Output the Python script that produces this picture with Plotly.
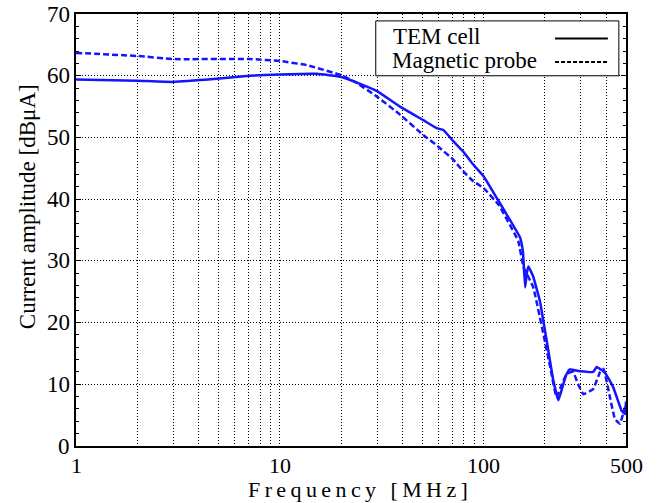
import math
import plotly.graph_objects as go

# TEM cell (solid)
tem_f = [1, 2, 3, 4.9, 7.1, 10, 15.2, 20, 23.4, 30, 38.9, 50.6, 58.9, 63.5, 71, 79.5, 89, 100,
         116, 130, 151, 156, 160, 163, 166, 175, 189, 204, 220, 233, 245, 256, 265, 300, 345,
         359, 394, 433, 476, 495, 500]
tem_a = [59.4, 59.2, 59.0, 59.5, 60.0, 60.2, 60.3, 59.8, 59.0, 57.5, 55.0, 52.8, 51.5, 51.2,
         49.4, 47.7, 45.6, 43.7, 40.2, 37.5, 33.8, 31.5, 25.7, 28.0, 29.1, 27.5, 23.5, 17.1,
         10.6, 7.4, 9.8, 11.7, 12.4, 12.1, 12.0, 12.8, 11.9, 9.5, 5.7, 5.2, 7.2]

# Magnetic probe (dashed)
mag_f = [1, 2, 3, 7.1, 10, 13.6, 20, 23.4, 30, 38.9, 50.6, 60, 71, 79.5, 89, 100, 119, 148,
         157, 175, 212, 228, 242, 256, 275, 291, 309, 345, 373, 388, 417, 441, 467, 495, 500]
mag_a = [63.7, 63.2, 62.7, 62.7, 62.4, 61.7, 60.1, 59.0, 56.6, 53.7, 50.4, 48.5, 46.4, 44.5,
         42.9, 41.8, 39.0, 33.2, 29.0, 25.8, 12.9, 7.9, 10.0, 11.7, 12.0, 10.0, 8.4, 9.2, 12.0,
         12.5, 7.9, 4.4, 3.6, 6.3, 6.0]

x_gridvals = [1, 2, 3, 4, 5, 6, 7, 8, 9, 10, 20, 30, 40, 50, 60, 70, 80, 90, 100, 200, 300, 400, 500]
x_labelvals = [1, 10, 100, 500]
x_labeltext = ["1", "10", "100", "500"]
y_labelvals = [0, 10, 20, 30, 40, 50, 60, 70]

legend_names = ["TEM cell", "Magnetic probe"]
x_title = "Frequency [MHz]"
y_title = "Current amplitude [dBμA]"

BLUE = "#1414ff"
FONT = "Liberation Serif, Times New Roman, Times, serif"

fig = go.Figure()
fig.add_trace(go.Scatter(x=tem_f, y=tem_a, mode="lines", name=legend_names[0],
                         line=dict(color=BLUE, width=2.5, shape="spline", smoothing=0.3)))
fig.add_trace(go.Scatter(x=mag_f, y=mag_a, mode="lines", name=legend_names[1],
                         line=dict(color=BLUE, width=2.5, dash="6px,3px", shape="spline", smoothing=0.3)))

fig.update_layout(
    width=672, height=503,
    margin=dict(l=76, r=46, t=12, b=57),
    paper_bgcolor="white", plot_bgcolor="white",
    showlegend=False,
    font=dict(family=FONT, size=22, color="black"),
    xaxis=dict(
        type="log", range=[0, math.log10(500)],
        tickvals=x_gridvals, showticklabels=False,
        showgrid=True, gridcolor="black", griddash="1px,2px", gridwidth=1,
        showline=True, linecolor="black", linewidth=1.5, mirror=True,
        ticks="", zeroline=False,
    ),
    yaxis=dict(
        range=[0, 70], dtick=10, tick0=0, showticklabels=False,
        showgrid=True, gridcolor="black", griddash="1px,2px", gridwidth=1,
        showline=True, linecolor="black", linewidth=1.5, mirror="ticks",
        ticks="inside", ticklen=5, tickcolor="black",
        minor=dict(dtick=2, ticks="inside", ticklen=3, tickcolor="black", showgrid=False),
        zeroline=False,
    ),
)

# Tick labels as text annotations
for v, t in zip(x_labelvals, x_labeltext):
    fig.add_annotation(xref="x", yref="paper", x=math.log10(v), y=-0.045, text=t,
                       showarrow=False, xanchor="center", yanchor="middle",
                       font=dict(size=22, family=FONT))
for v in y_labelvals:
    fig.add_annotation(xref="paper", yref="y", x=-0.007, y=v, text=str(v),
                       showarrow=False, xanchor="right", yanchor="middle",
                       font=dict(size=23, family=FONT))

# Axis titles
fig.add_annotation(xref="paper", yref="paper", x=0.513, y=-0.101, text="\u2009".join(x_title),
                   showarrow=False, xanchor="center", yanchor="middle",
                   font=dict(size=22, family=FONT))
fig.add_annotation(xref="paper", yref="paper", x=-0.089, y=0.553, text=y_title, textangle=-90,
                   showarrow=False, xanchor="center", yanchor="middle",
                   font=dict(size=23, family=FONT))

# Legend box (drawn manually, with black line samples)
fig.add_shape(type="rect", xref="paper", yref="paper", x0=0.545, x1=0.987, y0=0.857, y1=0.984,
              line=dict(color="black", width=1), fillcolor="white", layer="above")
fig.add_annotation(xref="paper", yref="paper", x=0.572, y=0.947, text=legend_names[0],
                   showarrow=False, xanchor="left", yanchor="middle", font=dict(size=23, family=FONT))
fig.add_annotation(xref="paper", yref="paper", x=0.570, y=0.893, text=legend_names[1],
                   showarrow=False, xanchor="left", yanchor="middle", font=dict(size=23, family=FONT))
fig.add_shape(type="line", xref="paper", yref="paper", x0=0.871, x1=0.967, y0=0.943, y1=0.943,
              line=dict(color="black", width=2))
fig.add_shape(type="line", xref="paper", yref="paper", x0=0.871, x1=0.967, y0=0.889, y1=0.889,
              line=dict(color="black", width=2, dash="4px,2px"))

fig.write_html("out.html")
